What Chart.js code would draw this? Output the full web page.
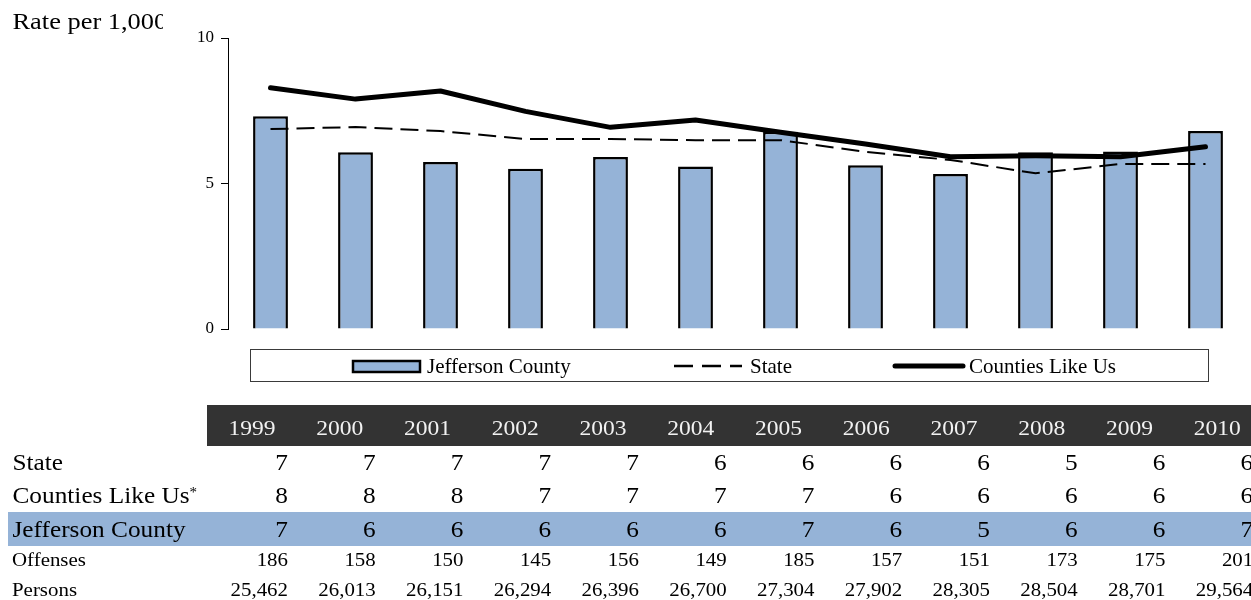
<!DOCTYPE html>
<html>
<head>
<meta charset="utf-8">
<title>Rate per 1,000</title>
<script src="https://cdn.jsdelivr.net/npm/chart.js@4/dist/chart.umd.min.js"></script>
<style>
  html, body { margin: 0; padding: 0; background: #ffffff; }
  #wrap { position: relative; width: 1251px; height: 600px; overflow: hidden; }
  canvas { display: block; }
</style>
</head>
<body>
<div id="wrap"><canvas id="chart" width="1251" height="600"></canvas></div>
<script>
// Years shown along the chart and in the table header
const years = ['1999', '2000', '2001', '2002', '2003', '2004', '2005', '2006', '2007', '2008', '2009', '2010'];

// Rates per 1,000 persons
const jeffersonRate = [7.31, 6.07, 5.74, 5.51, 5.91, 5.58, 6.78, 5.63, 5.33, 6.07, 6.10, 6.80];
const stateRate     = [6.87, 6.94, 6.80, 6.53, 6.53, 6.49, 6.49, 6.09, 5.81, 5.35, 5.67, 5.67];
const countiesRate  = [8.29, 7.90, 8.18, 7.48, 6.93, 7.18, 6.76, 6.36, 5.92, 5.95, 5.92, 6.26];

// Counts for Jefferson County
const offenses = [186, 158, 150, 145, 156, 149, 185, 157, 151, 173, 175, 201];
const persons  = [25462, 26013, 26151, 26294, 26396, 26700, 27304, 27902, 28305, 28504, 28701, 29564];

// Value axis
const yTicks = [0, 5, 10];

const SERIF = '"Liberation Serif", "Times New Roman", serif';
const BAR_BLUE = '#95B3D7';

// Draws text with a horizontal stretch factor
function stretchedText(ctx, str, x, y, size, sx, align, color) {
  ctx.save();
  ctx.font = size + 'px ' + SERIF;
  ctx.fillStyle = color || '#000';
  ctx.textAlign = align || 'left';
  ctx.textBaseline = 'alphabetic';
  ctx.translate(x, y);
  ctx.scale(sx, 1);
  ctx.fillText(str, 0, 0);
  ctx.restore();
}
function stretchedWidth(ctx, str, size, sx) {
  ctx.save();
  ctx.font = size + 'px ' + SERIF;
  const w = ctx.measureText(str).width * sx;
  ctx.restore();
  return w;
}

// Axis title in the top-left corner (its box cuts off the last character)
const titlePlugin = {
  id: 'cornerTitle',
  afterDraw(chart) {
    const ctx = chart.ctx;
    ctx.save();
    ctx.beginPath();
    ctx.rect(0, 0, 163, 45);
    ctx.clip();
    stretchedText(ctx, 'Rate per 1,000', 12.5, 29, 24, 1.1, 'left', '#000');
    ctx.restore();
  }
};

// Boxed legend under the plot
const boxLegendPlugin = {
  id: 'boxLegend',
  afterDraw(chart) {
    const ctx = chart.ctx;
    const ds = chart.data.datasets;
    const bar = ds.find(d => d.type === 'bar');
    const state = ds.find(d => d.label === 'State');
    const counties = ds.find(d => d.label === 'Counties Like Us');
    const cy = 366;
    ctx.save();
    ctx.strokeStyle = '#3a3a3a';
    ctx.lineWidth = 1;
    ctx.strokeRect(250.5, 349.5, 958, 32);

    // bar swatch
    ctx.fillStyle = bar.backgroundColor;
    ctx.fillRect(353, 361, 67, 11);
    ctx.strokeStyle = '#000';
    ctx.lineWidth = 2.5;
    ctx.strokeRect(353, 361, 67, 11);

    // dashed line swatch
    ctx.beginPath();
    ctx.setLineDash([19, 9]);
    ctx.lineWidth = 2.5;
    ctx.moveTo(674, cy);
    ctx.lineTo(742, cy);
    ctx.stroke();
    ctx.setLineDash([]);

    // thick line swatch
    ctx.beginPath();
    ctx.lineWidth = 5;
    ctx.lineCap = 'round';
    ctx.moveTo(895, cy);
    ctx.lineTo(963, cy);
    ctx.stroke();
    ctx.restore();

    stretchedText(ctx, bar.label, 427, 373, 21, 1.0, 'left', '#000');
    stretchedText(ctx, state.label, 750, 373, 21, 1.0, 'left', '#000');
    stretchedText(ctx, counties.label, 969, 373, 21, 1.0, 'left', '#000');
  }
};

// Data table below the legend
const tablePlugin = {
  id: 'dataTable',
  afterDraw(chart) {
    const ctx = chart.ctx;
    const colStep = 87.75;
    const colRight = i => 288 + colStep * i;
    const colCenter = i => 252 + colStep * i;

    ctx.save();
    ctx.fillStyle = '#333333';
    ctx.fillRect(207, 405, 1044, 41);
    ctx.fillStyle = BAR_BLUE;
    ctx.fillRect(8, 512, 1243, 34);
    ctx.restore();

    years.forEach((y, i) => stretchedText(ctx, y, colCenter(i), 435, 22, 1.07, 'center', '#f2f2f2'));

    const big = 23, bigSx = 1.1;
    const rows = [
      { label: 'State', values: stateRate, base: 470 },
      { label: 'Counties Like Us', values: countiesRate, base: 503, star: true },
      { label: 'Jefferson County', values: jeffersonRate, base: 537 }
    ];
    rows.forEach(r => {
      stretchedText(ctx, r.label, 12.5, r.base, big, bigSx, 'left', '#000');
      if (r.star) {
        const w = stretchedWidth(ctx, r.label, big, bigSx);
        stretchedText(ctx, '*', 12.5 + w, r.base - 6, 15, 1.0, 'left', '#000');
      }
      r.values.forEach((v, i) => stretchedText(ctx, String(Math.round(v)), colRight(i), r.base, big, bigSx, 'right', '#000'));
    });

    const small = 19, smallSx = 1.1;
    stretchedText(ctx, 'Offenses', 12, 566, small, smallSx, 'left', '#000');
    offenses.forEach((v, i) => stretchedText(ctx, String(v), colRight(i), 566, small, smallSx, 'right', '#000'));
    stretchedText(ctx, 'Persons', 12, 596, small, smallSx, 'left', '#000');
    persons.forEach((v, i) => stretchedText(ctx, v.toLocaleString('en-US'), colRight(i), 596, small, smallSx, 'right', '#000'));
  }
};

new Chart(document.getElementById('chart'), {
  type: 'bar',
  data: {
    labels: years,
    datasets: [
      {
        type: 'line',
        label: 'Counties Like Us',
        data: countiesRate,
        borderColor: '#000',
        borderWidth: 5,
        borderCapStyle: 'round',
        borderJoinStyle: 'round',
        pointRadius: 0,
        tension: 0,
        fill: false,
        order: 1
      },
      {
        type: 'line',
        label: 'State',
        data: stateRate,
        borderColor: '#000',
        borderWidth: 2,
        borderDash: [18, 8],
        pointRadius: 0,
        tension: 0,
        fill: false,
        order: 2
      },
      {
        type: 'bar',
        label: 'Jefferson County',
        data: jeffersonRate,
        backgroundColor: BAR_BLUE,
        borderColor: '#000',
        borderWidth: 2.5,
        barPercentage: 0.41,
        categoryPercentage: 1,
        order: 3
      }
    ]
  },
  options: {
    responsive: false,
    devicePixelRatio: 1,
    animation: false,
    events: [],
    layout: { padding: { left: 0, right: 3, top: 38, bottom: 271 } },
    plugins: {
      legend: { display: false },
      tooltip: { enabled: false },
      title: { display: false }
    },
    scales: {
      x: {
        display: false,
        offset: true
      },
      y: {
        min: yTicks[0],
        max: yTicks[yTicks.length - 1],
        afterBuildTicks(scale) {
          scale.ticks = yTicks.map(v => ({ value: v }));
        },
        afterFit(scale) { scale.width = 228; },
        ticks: {
          color: '#000',
          padding: 7,
          font: { family: SERIF, size: 17 }
        },
        grid: {
          drawOnChartArea: false,
          drawTicks: true,
          tickLength: 7,
          color: '#000',
          lineWidth: 1
        },
        border: { display: true, color: '#000', width: 1 }
      }
    }
  },
  plugins: [titlePlugin, boxLegendPlugin, tablePlugin]
});
</script>
</body>
</html>
